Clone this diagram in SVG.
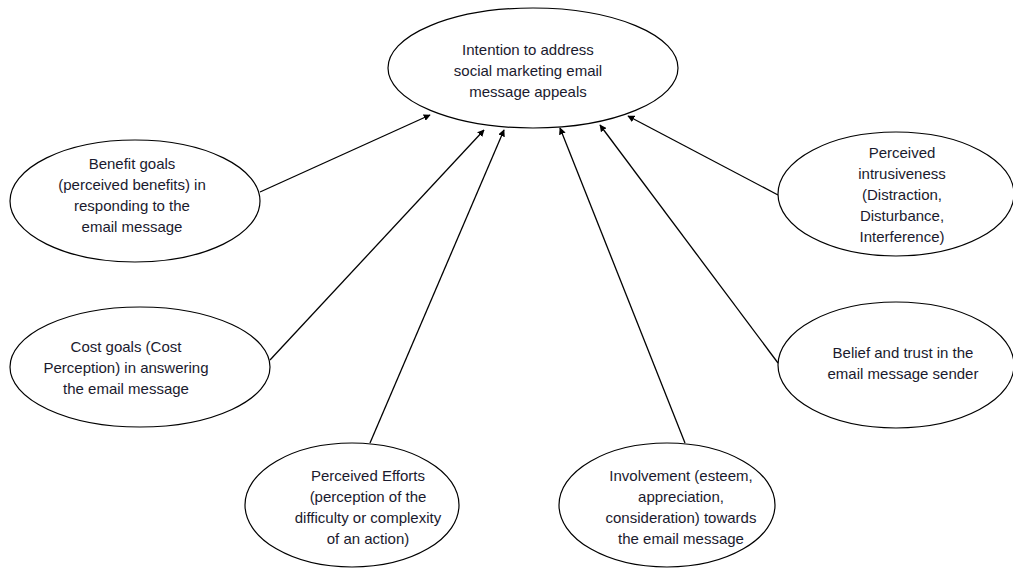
<svg xmlns="http://www.w3.org/2000/svg" width="1013" height="571" viewBox="0 0 1013 571">
<style>
ellipse{fill:#fff;stroke:#000;stroke-width:1.2}
text{font-family:"Liberation Sans",Arial,sans-serif;font-size:15px;fill:#1a1a2e;text-anchor:middle}
.c line{stroke:#000;stroke-width:1.3;marker-end:url(#ah)}
</style>
<defs>
<marker id="ah" viewBox="0 0 10 10" refX="9" refY="5" markerWidth="7" markerHeight="7" markerUnits="userSpaceOnUse" orient="auto">
<path d="M0,0 L10,5 L0,10 z" fill="#000"/>
</marker>
</defs>
<rect width="1013" height="571" fill="#fff"/>
<g class="c" id="connectors">
<line x1="260" y1="192" x2="430" y2="115"/>
<line x1="270" y1="360" x2="484" y2="130"/>
<line x1="370" y1="443" x2="504" y2="130"/>
<line x1="685" y1="443" x2="560" y2="128"/>
<line x1="778" y1="363" x2="600" y2="125"/>
<line x1="778" y1="195" x2="628" y2="116"/>
</g>
<g id="intention">
<ellipse cx="533" cy="68" rx="145" ry="60"/>
<text x="528" y="55">Intention to address</text>
<text x="528" y="76">social marketing email</text>
<text x="528" y="97">message appeals</text>
</g>
<g id="benefit">
<ellipse cx="135" cy="201" rx="125" ry="61"/>
<text x="132" y="169">Benefit goals</text>
<text x="132" y="190">(perceived benefits) in</text>
<text x="132" y="211">responding  to the</text>
<text x="132" y="232">email message</text>
</g>
<g id="cost">
<ellipse cx="140" cy="367" rx="130" ry="60"/>
<text x="126" y="352">Cost goals (Cost</text>
<text x="126" y="373">Perception) in answering</text>
<text x="126" y="394">the email message</text>
</g>
<g id="intrusiveness">
<ellipse cx="896" cy="194" rx="118" ry="62"/>
<text x="902" y="158">Perceived</text>
<text x="902" y="179">intrusiveness</text>
<text x="902" y="200">(Distraction,</text>
<text x="902" y="221">Disturbance,</text>
<text x="902" y="242">Interference)</text>
</g>
<g id="belief">
<ellipse cx="896" cy="365" rx="118" ry="63"/>
<text x="903" y="358">Belief and trust  in the</text>
<text x="903" y="379">email message sender</text>
</g>
<g id="efforts">
<ellipse cx="352" cy="505" rx="107" ry="62"/>
<text x="368" y="481">Perceived Efforts</text>
<text x="368" y="502">(perception  of the</text>
<text x="368" y="523">difficulty or  complexity</text>
<text x="368" y="544">of an action)</text>
</g>
<g id="involvement">
<ellipse cx="667" cy="505" rx="108" ry="62"/>
<text x="681" y="481">Involvement  (esteem,</text>
<text x="681" y="502">appreciation,</text>
<text x="681" y="523">consideration) towards</text>
<text x="681" y="544">the email message</text>
</g>
</svg>
